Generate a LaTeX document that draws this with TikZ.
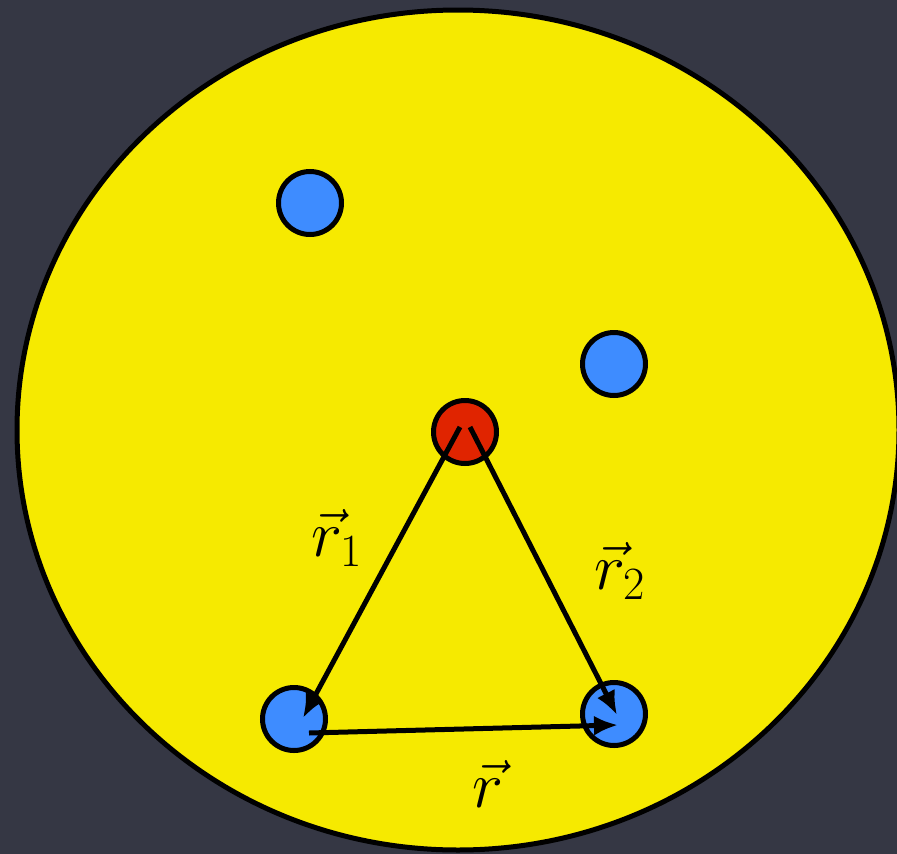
\RequirePackage{fix-cm}
\documentclass[tikz,border=0pt]{standalone}
\usetikzlibrary{arrows.meta}
\definecolor{Slate}{RGB}{53,55,68}
\definecolor{Lemon}{RGB}{246,234,0}
\definecolor{Sky}{RGB}{62,140,255}
\definecolor{Ember}{RGB}{224,36,0}
\begin{document}
\begin{tikzpicture}[
    x=1pt, y=-1pt,
    font=\fontsize{66}{78}\selectfont,
    disc/.style={draw, line width=5pt, fill=Lemon},
    bead/.style={draw, circle, line width=5pt, fill=Sky, inner sep=0pt, minimum size=63pt},
    core/.style={bead, fill=Ember},
    vec/.style={-{Latex[length=24pt,width=20pt]}, line width=5pt},
    lbl/.style={inner sep=0pt}
  ]
    \fill[Slate](0,0) rectangle (897,854);
    \useasboundingbox (0,0) rectangle (897,854);
    \draw[disc](458,430) ellipse [x radius=441, y radius=420];
    \node[bead](b1) at (310,203){};
    \node[bead](b2) at (614,364){};
    \node[core](src) at (465,432){};
    \node[bead](lo) at (294,719){};
    \node[bead](lr) at (614,714){};
    \draw[vec]([xshift=-5pt,yshift=5pt]src.center)--node[lbl,pos=0.38,left=36pt]{$\vec{r}_1$}([xshift=9pt,yshift=1pt]lo.center);
    \draw[vec]([xshift=5pt,yshift=5pt]src.center)--node[lbl,pos=0.5,right=48pt]{$\vec{r}_2$}([xshift=3pt,yshift=-1pt]lr.center);
    \draw[vec]([xshift=15pt,yshift=-14pt]lo.center)--node[lbl,pos=0.58,below=30pt]{$\vec{r}$}([xshift=4pt,yshift=-11pt]lr.center);
  \end{tikzpicture}
\end{document}
